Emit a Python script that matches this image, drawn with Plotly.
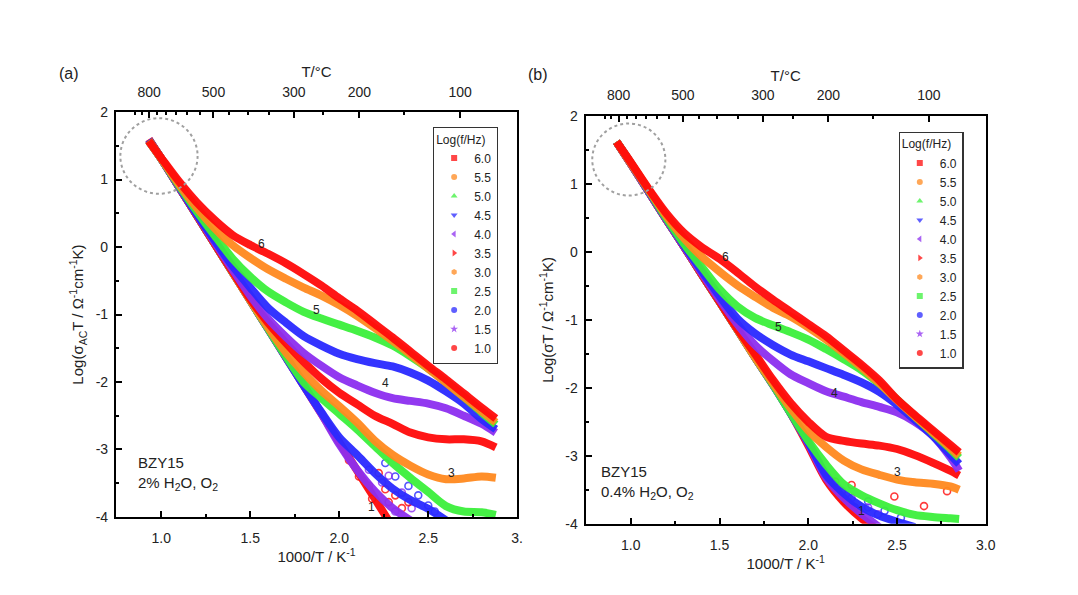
import plotly.graph_objects as go

# ---------------- data ----------------
FREQ_LABELS = ["6.0", "5.5", "5.0", "4.5", "4.0", "3.5", "3.0", "2.5", "2.0", "1.5", "1.0"]
TOP_T_MAJOR = [800, 500, 300, 200, 100]
TOP_T_MINOR = [900, 850, 750, 700, 650, 600, 550, 450, 400, 350, 250, 150]
BOTTOM_TICKS = [1.0, 1.5, 2.0, 2.5, 3.0]
BOTTOM_TICKTEXT_A = ["1.0", "1.5", "2.0", "2.5", "3."]
BOTTOM_TICKTEXT_B = ["1.0", "1.5", "2.0", "2.5", "3.0"]
Y_TICKS = [-4, -3, -2, -1, 0, 1, 2]

# panel (a): 2% H2O, O2
X_A = [0.93, 1.0, 1.1, 1.2, 1.3, 1.4, 1.5, 1.6, 1.7, 1.8, 1.9, 2.0, 2.1, 2.2, 2.3, 2.4, 2.5, 2.6, 2.7, 2.8, 2.88]
A_60 = [1.57, 1.32, 0.97, 0.66, 0.40, 0.18, 0.03, -0.10, -0.24, -0.40, -0.57, -0.76, -0.94, -1.14, -1.34, -1.55, -1.76, -1.96, -2.17, -2.38, -2.54]
A_55 = [1.57, 1.31, 0.93, 0.58, 0.28, 0.03, -0.16, -0.33, -0.47, -0.60, -0.72, -0.86, -1.02, -1.20, -1.39, -1.59, -1.80, -2.01, -2.22, -2.43, -2.60]
A_50 = [1.57, 1.31, 0.91, 0.53, 0.17, -0.17, -0.44, -0.66, -0.82, -0.96, -1.06, -1.15, -1.24, -1.34, -1.46, -1.62, -1.80, -2.00, -2.22, -2.45, -2.63]
A_45 = [1.57, 1.31, 0.90, 0.49, 0.10, -0.28, -0.60, -0.90, -1.12, -1.32, -1.46, -1.58, -1.66, -1.72, -1.77, -1.86, -1.98, -2.14, -2.32, -2.55, -2.70]
A_40 = [1.57, 1.31, 0.89, 0.48, 0.07, -0.33, -0.72, -1.06, -1.33, -1.57, -1.76, -1.93, -2.05, -2.16, -2.24, -2.28, -2.32, -2.39, -2.50, -2.62, -2.75]
A_35 = [1.58, 1.31, 0.89, 0.47, 0.05, -0.36, -0.77, -1.12, -1.42, -1.70, -1.95, -2.16, -2.33, -2.50, -2.62, -2.75, -2.82, -2.85, -2.85, -2.88, -2.97]
A_30 = [1.58, 1.31, 0.89, 0.47, 0.05, -0.37, -0.79, -1.19, -1.56, -1.86, -2.13, -2.36, -2.60, -2.87, -3.08, -3.24, -3.37, -3.44, -3.43, -3.40, -3.42]
A_25 = [1.58, 1.31, 0.89, 0.47, 0.05, -0.37, -0.79, -1.21, -1.62, -2.00, -2.24, -2.47, -2.70, -2.95, -3.20, -3.42, -3.63, -3.84, -3.92, -3.93, -3.97]
A_20 = [1.59, 1.31, 0.89, 0.47, 0.05, -0.37, -0.79, -1.21, -1.63, -2.05, -2.45, -2.82, -3.08, -3.35, -3.58, -3.75, -3.88, -4.05]
A_15 = [1.59, 1.31, 0.89, 0.47, 0.05, -0.37, -0.79, -1.21, -1.63, -2.05, -2.47, -2.92, -3.30, -3.62, -3.87, -4.05]
A_10 = [1.60, 1.31, 0.89, 0.47, 0.05, -0.37, -0.79, -1.21, -1.63, -2.05, -2.47, -2.89, -3.31, -3.73, -4.15]

# scattered low-frequency points (a)
A_SC_10_X = [2.055, 2.111, 2.167, 2.185, 2.222, 2.259, 2.278, 2.315, 2.352, 2.389]
A_SC_10_Y = [-3.16, -3.40, -3.54, -3.73, -3.35, -3.59, -3.78, -3.68, -3.87, -3.78]
A_SC_15_X = [2.167, 2.241, 2.278, 2.315, 2.352, 2.407]
A_SC_15_Y = [-3.30, -3.49, -3.39, -3.92, -3.64, -3.87]
A_SC_20_X = [2.259, 2.315, 2.389, 2.444, 2.500, 2.537]
A_SC_20_Y = [-3.20, -3.40, -3.54, -3.68, -3.83, -3.92]

# panel (b): 0.4% H2O, O2
X_B = [0.92, 1.0, 1.1, 1.2, 1.3, 1.4, 1.5, 1.6, 1.7, 1.8, 1.9, 2.0, 2.1, 2.2, 2.3, 2.4, 2.5, 2.6, 2.7, 2.8, 2.85]
B_60 = [1.62, 1.32, 0.93, 0.57, 0.28, 0.07, -0.10, -0.30, -0.51, -0.70, -0.88, -1.06, -1.24, -1.45, -1.66, -1.89, -2.17, -2.40, -2.62, -2.84, -2.95]
B_55 = [1.62, 1.31, 0.92, 0.53, 0.20, -0.07, -0.29, -0.49, -0.66, -0.82, -0.95, -1.11, -1.29, -1.49, -1.70, -1.93, -2.18, -2.42, -2.65, -2.88, -3.00]
B_50 = [1.62, 1.31, 0.91, 0.50, 0.12, -0.22, -0.55, -0.80, -0.97, -1.08, -1.18, -1.29, -1.43, -1.58, -1.74, -1.94, -2.17, -2.42, -2.66, -2.90, -3.03]
B_45 = [1.62, 1.31, 0.90, 0.49, 0.10, -0.28, -0.65, -0.98, -1.20, -1.37, -1.51, -1.61, -1.71, -1.81, -1.92, -2.06, -2.25, -2.47, -2.70, -2.98, -3.12]
B_40 = [1.62, 1.30, 0.89, 0.48, 0.08, -0.31, -0.70, -1.06, -1.37, -1.60, -1.80, -1.93, -2.05, -2.13, -2.21, -2.28, -2.36, -2.50, -2.70, -3.02, -3.22]
B_35 = [1.62, 1.30, 0.89, 0.48, 0.08, -0.33, -0.73, -1.13, -1.50, -1.88, -2.22, -2.50, -2.72, -2.78, -2.82, -2.85, -2.90, -2.99, -3.10, -3.22, -3.29]
B_30 = [1.62, 1.30, 0.89, 0.48, 0.08, -0.33, -0.73, -1.14, -1.55, -1.93, -2.30, -2.63, -2.87, -3.07, -3.20, -3.28, -3.35, -3.39, -3.41, -3.45, -3.50]
B_25 = [1.62, 1.30, 0.89, 0.48, 0.08, -0.33, -0.73, -1.14, -1.55, -1.95, -2.37, -2.78, -3.13, -3.42, -3.58, -3.70, -3.80, -3.87, -3.90, -3.92, -3.93]
B_20 = [1.62, 1.30, 0.89, 0.48, 0.08, -0.33, -0.73, -1.14, -1.55, -1.95, -2.37, -2.80, -3.28, -3.55, -3.75, -3.88, -3.97, -4.05]
B_15 = [1.62, 1.30, 0.89, 0.48, 0.08, -0.33, -0.73, -1.14, -1.55, -1.95, -2.37, -2.82, -3.32, -3.62, -3.85, -4.05]
B_10 = [1.62, 1.30, 0.89, 0.48, 0.08, -0.33, -0.73, -1.14, -1.55, -1.95, -2.37, -2.85, -3.35, -3.68, -3.92, -4.10]

# scattered low-frequency points (b)
B_SC_10_X = [2.059, 2.096, 2.152, 2.189, 2.207, 2.244, 2.263, 2.485, 2.652, 2.782]
B_SC_10_Y = [-3.10, -3.29, -3.38, -3.52, -3.67, -3.43, -3.76, -3.60, -3.74, -3.52]
B_SC_15_X = [2.244, 2.337, 2.393]
B_SC_15_Y = [-3.62, -3.76, -3.86]
B_SC_20_X = [2.337, 2.430, 2.522]
B_SC_20_Y = [-3.67, -3.81, -3.91]

SERIES_A = [A_60, A_55, A_50, A_45, A_40, A_35, A_30, A_25, A_20, A_15, A_10]
SERIES_B = [B_60, B_55, B_50, B_45, B_40, B_35, B_30, B_25, B_20, B_15, B_10]
SCATTER_A = [(A_SC_20_X, A_SC_20_Y, 8), (A_SC_15_X, A_SC_15_Y, 9), (A_SC_10_X, A_SC_10_Y, 10)]
SCATTER_B = [(B_SC_20_X, B_SC_20_Y, 8), (B_SC_15_X, B_SC_15_Y, 9), (B_SC_10_X, B_SC_10_Y, 10)]

# ---------------- styles ----------------
RED, ORANGE, GREEN, BLUE, PURPLE = "#ff0a0a", "#ff8a1f", "#3cf03c", "#2a2aff", "#8d2ff0"
COLORS = [RED, ORANGE, GREEN, BLUE, PURPLE, RED, ORANGE, GREEN, BLUE, PURPLE, RED]
SYMBOLS = ["square", "circle", "triangle-up", "triangle-down", "triangle-left",
           "triangle-right", "hexagon", "square", "circle", "star", "circle"]
FONT = "Liberation Sans, Arial, sans-serif"
TXT = "#222222"

W, H = 1078, 595
A_BOX = (117, 522, 107, 523)   # left, right, top, bottom in px
B_BOX = (591, 995, 111, 530)


def dom(box):
    l, r, t, b = box
    return [l / W, r / W], [1 - b / H, 1 - t / H]


def t2x(t):
    return 1000.0 / (t + 273.15)


fig = go.Figure()


def pad(ys, n):
    return list(ys) + [None] * (n - len(ys))


def add_panel(X, series, scat, xa, ya, xtop, legend_name):
    n = len(X)
    for sx, sy, i in scat:
        fig.add_trace(go.Scatter(
            x=sx, y=sy, mode="markers",
            marker=dict(color=COLORS[i], symbol="circle-open", size=7, line=dict(width=1.6)),
            opacity=0.8, showlegend=False, hoverinfo="skip", xaxis=xa, yaxis=ya))
    # plot low frequency first so high frequency lies on top
    for i in reversed(range(len(series))):
        fig.add_trace(go.Scatter(
            x=X, y=pad(series[i], n), mode="lines",
            line=dict(color=COLORS[i], width=8, shape="spline", smoothing=0.8),
            opacity=0.95, showlegend=False, hoverinfo="skip",
            xaxis=xa, yaxis=ya))
    # legend-only entries (markers)
    for i, lab in enumerate(FREQ_LABELS):
        fig.add_trace(go.Scatter(
            x=[None], y=[None], mode="markers", name=lab,
            marker=dict(color=COLORS[i], symbol=SYMBOLS[i], size=6, opacity=0.75),
            legend=legend_name, xaxis=xa, yaxis=ya))
    # anchor trace for the top temperature axis
    fig.add_trace(go.Scatter(x=[t2x(t) for t in TOP_T_MAJOR], y=[None] * len(TOP_T_MAJOR),
                             mode="markers", showlegend=False, hoverinfo="skip",
                             xaxis=xtop, yaxis=ya))


add_panel(X_A, SERIES_A, SCATTER_A, "x", "y", "x3", "legend")
add_panel(X_B, SERIES_B, SCATTER_B, "x2", "y2", "x4", "legend2")

xa_dom, ya_dom = dom(A_BOX)
xb_dom, yb_dom = dom(B_BOX)

common_x = dict(showline=True, linewidth=2, linecolor="black", ticks="inside",
                ticklen=6, tickwidth=1.5, tickcolor="black", showgrid=False,
                zeroline=False, tickfont=dict(family=FONT, size=14, color=TXT),
                range=[0.745, 3.0], mirror=False)
minor_bottom = dict(tickmode="array", tickvals=[1.25, 1.75, 2.25, 2.75],
                    ticks="inside", ticklen=3, tickwidth=1.5, tickcolor="black")
minor_top = dict(tickmode="array", tickvals=[t2x(t) for t in TOP_T_MINOR],
                 ticks="inside", ticklen=3, tickwidth=1.5, tickcolor="black")
common_y = dict(showline=True, linewidth=2, linecolor="black", ticks="inside",
                ticklen=6, tickwidth=1.5, tickcolor="black", showgrid=False,
                zeroline=False, tickfont=dict(family=FONT, size=14, color=TXT),
                range=[-4, 2], tickmode="array", tickvals=Y_TICKS,
                ticktext=[str(v) for v in Y_TICKS], mirror=True, ticklabelstandoff=3,
                minor=dict(tickmode="array", tickvals=[-3.5, -2.5, -1.5, -0.5, 0.5, 1.5],
                           ticks="inside", ticklen=3, tickwidth=1.5, tickcolor="black"))

title_font = dict(family=FONT, size=15, color=TXT)

fig.update_layout(
    width=W, height=H, margin=dict(l=0, r=0, t=0, b=0),
    paper_bgcolor="white", plot_bgcolor="white",
    font=dict(family=FONT, color=TXT),
    xaxis=dict(common_x, domain=xa_dom, anchor="y", tickmode="array",
               tickvals=BOTTOM_TICKS, ticktext=BOTTOM_TICKTEXT_A, minor=minor_bottom,
               ticklabelstandoff=7,
               title=dict(text="1000/T / K<sup>-1</sup>", font=title_font, standoff=2)),
    yaxis=dict(common_y, domain=ya_dom, anchor="x",
               title=dict(text="Log(σ<sub>AC</sub>T / Ω<sup>-1</sup>cm<sup>-1</sup>K)",
                          font=title_font, standoff=8)),
    xaxis3=dict(common_x, overlaying="x", side="top", anchor="y", tickmode="array",
                tickvals=[t2x(t) for t in TOP_T_MAJOR], ticktext=[str(t) for t in TOP_T_MAJOR],
                minor=minor_top, ticklabelstandoff=8,
                title=dict(text="T/°C", font=title_font, standoff=2)),
    xaxis2=dict(common_x, domain=xb_dom, anchor="y2", tickmode="array",
                tickvals=BOTTOM_TICKS, ticktext=BOTTOM_TICKTEXT_B, minor=minor_bottom,
                ticklabelstandoff=7,
                title=dict(text="1000/T / K<sup>-1</sup>", font=title_font, standoff=2)),
    yaxis2=dict(common_y, domain=yb_dom, anchor="x2",
                title=dict(text="Log(σT / Ω<sup>-1</sup>cm<sup>-1</sup>K)",
                           font=title_font, standoff=8)),
    xaxis4=dict(common_x, overlaying="x2", side="top", anchor="y2", tickmode="array",
                tickvals=[t2x(t) for t in TOP_T_MAJOR], ticktext=[str(t) for t in TOP_T_MAJOR],
                minor=minor_top, ticklabelstandoff=8,
                title=dict(text="T/°C", font=title_font, standoff=2)),
    legend=dict(x=437 / W, y=1 - 122 / H, xanchor="left", yanchor="top",
                bgcolor="white", bordercolor="#333", borderwidth=1.2,
                font=dict(family=FONT, size=12, color=TXT), itemwidth=30,
                title=dict(text="Log(f/Hz)", font=dict(family=FONT, size=12, color=TXT)),
                tracegroupgap=0),
    legend2=dict(x=907 / W, y=1 - 127 / H, xanchor="left", yanchor="top",
                 bgcolor="white", bordercolor="#333", borderwidth=1.2,
                 font=dict(family=FONT, size=12, color=TXT), itemwidth=30,
                 title=dict(text="Log(f/Hz)", font=dict(family=FONT, size=12, color=TXT)),
                 tracegroupgap=0),
)

# dotted circles around the high-temperature region
fig.add_shape(type="circle", xref="x", yref="y", x0=0.77, x1=1.204, y0=0.79, y1=1.91,
              line=dict(color="#a0a0a0", width=2, dash="dot"))
fig.add_shape(type="circle", xref="x2", yref="y2", x0=0.783, x1=1.195, y0=0.83, y1=1.89,
              line=dict(color="#a0a0a0", width=2, dash="dot"))

# curve labels
num_font = dict(family=FONT, size=12, color=TXT)
for txt, x, y in [("6", 1.565, 0.05), ("5", 1.87, -0.94), ("4", 2.26, -2.02),
                  ("3", 2.63, -3.35), ("1", 2.18, -3.85)]:
    fig.add_annotation(text=txt, x=x, y=y, xref="x", yref="y", showarrow=False, font=num_font)
for txt, x, y in [("6", 1.533, -0.08), ("5", 1.83, -1.1), ("4", 2.15, -2.08),
                  ("3", 2.5, -3.24), ("1", 2.3, -3.81)]:
    fig.add_annotation(text=txt, x=x, y=y, xref="x2", yref="y2", showarrow=False, font=num_font)

# sample / atmosphere notes
note_font = dict(family=FONT, size=15, color=TXT)
fig.add_annotation(text="BZY15<br>2% H<sub>2</sub>O, O<sub>2</sub>", x=137 / W, y=1 - 456 / H,
                   xref="paper", yref="paper", xanchor="left", yanchor="top",
                   align="left", showarrow=False, font=note_font)
fig.add_annotation(text="BZY15<br>0.4% H<sub>2</sub>O, O<sub>2</sub>", x=605 / W, y=1 - 466 / H,
                   xref="paper", yref="paper", xanchor="left", yanchor="top",
                   align="left", showarrow=False, font=note_font)

# panel letters
fig.add_annotation(text="(a)", x=70 / W, y=1 - 67 / H, xref="paper", yref="paper",
                   xanchor="center", yanchor="middle",
                   showarrow=False, font=dict(family=FONT, size=16, color=TXT))
fig.add_annotation(text="(b)", x=543 / W, y=1 - 68 / H, xref="paper", yref="paper",
                   xanchor="center", yanchor="middle",
                   showarrow=False, font=dict(family=FONT, size=16, color=TXT))

fig.write_html("out.html")
